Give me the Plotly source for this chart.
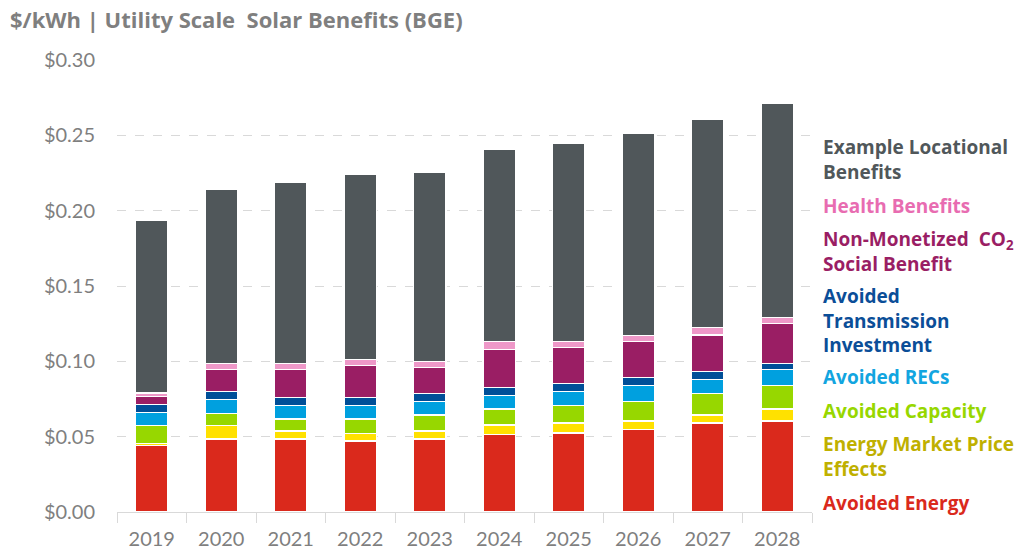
import plotly.graph_objects as go

years = ["2019", "2020", "2021", "2022", "2023", "2024", "2025", "2026", "2027", "2028"]

avoided_energy = [0.0440, 0.0484, 0.0484, 0.0471, 0.0484, 0.0512, 0.0525, 0.0550, 0.0591, 0.0604]
market_price_effects = [0.0015, 0.0092, 0.0054, 0.0052, 0.0054, 0.0065, 0.0066, 0.0054, 0.0053, 0.0080]
avoided_capacity = [0.0121, 0.0080, 0.0079, 0.0094, 0.0106, 0.0106, 0.0118, 0.0132, 0.0145, 0.0156]
avoided_recs = [0.0082, 0.0093, 0.0092, 0.0092, 0.0092, 0.0092, 0.0093, 0.0106, 0.0093, 0.0106]
avoided_transmission = [0.0053, 0.0053, 0.0053, 0.0053, 0.0053, 0.0054, 0.0053, 0.0052, 0.0053, 0.0042]
co2_social_benefit = [0.0053, 0.0146, 0.0186, 0.0212, 0.0171, 0.0250, 0.0239, 0.0239, 0.0240, 0.0264]
health_benefits = [0.0026, 0.0040, 0.0040, 0.0040, 0.0040, 0.0054, 0.0038, 0.0038, 0.0050, 0.0039]
locational_benefits = [0.1143, 0.1156, 0.1198, 0.1225, 0.1252, 0.1276, 0.1317, 0.1344, 0.1383, 0.1424]

y_ticks = [0.0, 0.05, 0.10, 0.15, 0.20, 0.25, 0.30]
y_tick_labels = ["$0.00", "$0.05", "$0.10", "$0.15", "$0.20", "$0.25", "$0.30"]

# (name, values, bar colour, label colour, label text)
series = [
    ("Avoided Energy", avoided_energy, "#DA291C", "#DA291C", "Avoided Energy"),
    ("Energy Market Price Effects", market_price_effects, "#FFE100", "#BFB000",
     "Energy Market Price<br>Effects"),
    ("Avoided Capacity", avoided_capacity, "#97D700", "#97D700", "Avoided Capacity"),
    ("Avoided RECs", avoided_recs, "#00A0DF", "#12A5E0", "Avoided RECs"),
    ("Avoided Transmission Investment", avoided_transmission, "#004F98", "#0B4E98",
     "Avoided<br>Transmission<br>Investment"),
    ("Non-Monetized CO2 Social Benefit", co2_social_benefit, "#9A1E64", "#9A1E64",
     "Non-Monetized  CO<sub>2</sub><br>Social Benefit"),
    ("Health Benefits", health_benefits, "#EE98C8", "#E86CB1", "Health Benefits"),
    ("Example Locational Benefits", locational_benefits, "#50575A", "#50575A",
     "Example Locational<br>Benefits"),
]

TICK_FONT = "Lato"
LABEL_FONT = "Open Sans"
fig = go.Figure()
for name, vals, color, _, _ in series:
    fig.add_trace(go.Bar(
        x=years, y=vals, name=name,
        marker=dict(color=color, line=dict(color="white", width=1.2)),
        hovertemplate="%{x}: $%{y:.4f}<extra>" + name + "</extra>",
    ))

# Label block on the right: pixel y of the centre of each label
label_centres = {
    "Example Locational Benefits": 159.5,
    "Health Benefits": 206,
    "Non-Monetized CO2 Social Benefit": 251.5,
    "Avoided Transmission Investment": 320,
    "Avoided RECs": 377,
    "Avoided Capacity": 411,
    "Energy Market Price Effects": 456.5,
    "Avoided Energy": 503,
}
W, H = 1033, 555
L, R, T, B = 117, 221, 60, 43
ph = H - T - B
pw = W - L - R
annotations = []
for name, _, _, tcolor, text in series:
    annotations.append(dict(
        text="<b>" + text + "</b>", x=(821 - L) / pw,
        y=(H - B - label_centres[name]) / ph,
        xref="paper", yref="paper", xanchor="left", yanchor="middle", align="left",
        showarrow=False, font=dict(family=LABEL_FONT, size=19, color=tcolor),
    ))

fig.update_layout(
    width=W, height=H,
    margin=dict(l=L, r=R, t=T, b=B, autoexpand=False),
    barmode="stack", bargap=0.53,
    plot_bgcolor="white", paper_bgcolor="white",
    showlegend=False,
    font=dict(family=TICK_FONT, color="#7F7F7F"),
    title=dict(
        text="<b>$/kWh | Utility Scale  Solar Benefits (BGE)</b>",
        x=10 / W, xanchor="left", y=1 - 20 / H, yanchor="middle",
        font=dict(family=LABEL_FONT, size=22, color="#7F7F7F"),
    ),
    annotations=annotations,
    yaxis=dict(
        range=[0, 0.30], tickvals=y_ticks, ticktext=y_tick_labels,
        showgrid=True, gridcolor="#D9D9D9", griddash="dash", gridwidth=1,
        zeroline=False, showline=False, ticks="", ticklabelstandoff=21,
        automargin=False,
        tickfont=dict(family=TICK_FONT, size=20, color="#7F7F7F"),
    ),
    xaxis=dict(
        type="category", showline=True, linecolor="#D9D9D9", linewidth=1,
        ticks="outside", tickson="boundaries", ticklen=10, tickcolor="#D9D9D9",
        showgrid=False, ticklabelstandoff=9, automargin=False,
        tickfont=dict(family=TICK_FONT, size=20, color="#7F7F7F"),
    ),
)

fig.write_html("out.html")
